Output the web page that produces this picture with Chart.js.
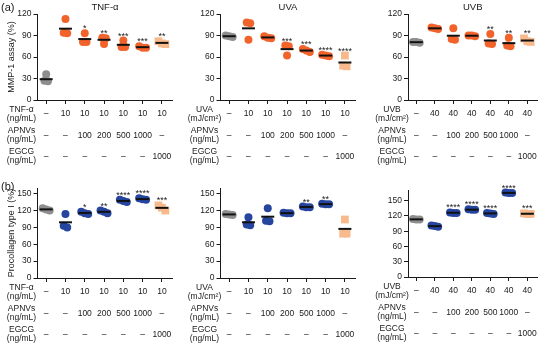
<!DOCTYPE html>
<html><head><meta charset="utf-8">
<script src="https://cdn.jsdelivr.net/npm/chart.js@4.4.1/dist/chart.umd.min.js"></script>
<style>
html,body{margin:0;padding:0;background:#fff;width:546px;height:347px;overflow:hidden;position:relative;font-family:'Liberation Sans',Arial,sans-serif}
canvas{position:absolute;z-index:1}
.lbl{position:absolute;font-size:11px;color:#1a1a1a;line-height:12px;z-index:5}
</style></head><body>
<div class="lbl" style="left:1px;top:1px">(a)</div>
<div class="lbl" style="left:1px;top:180px">(b)</div>
<canvas id="a1"></canvas><canvas id="a2"></canvas><canvas id="a3"></canvas>
<canvas id="b1"></canvas><canvas id="b2"></canvas><canvas id="b3"></canvas>
<script>
// ---------- data ----------
const yTickValues = [0, 30, 60, 90, 120, 150];
const panelTitles = ['TNF-α', 'UVA', 'UVB'];
const yTitleA = 'MMP-1 assay (%)';
const yTitleB = 'Procollagen type I (%)';

const tnfRow = ['–', '10', '10', '10', '10', '10', '10'];
const uvaRow = ['–', '10', '10', '10', '10', '10', '10'];
const uvbRow = ['–', '40', '40', '40', '40', '40', '40'];
const apnvsRow = ['–', '–', '100', '200', '500', '1000', '–'];
const egcgRow = ['–', '–', '–', '–', '–', '–', '1000'];

const tnfLabels = [['TNF-α', '(ng/mL)'], ['APNVs', '(ng/mL)'], ['EGCG', '(ng/mL)']];
const uvaLabels = [['UVA', '(mJ/cm²)'], ['APNVs', '(ng/mL)'], ['EGCG', '(ng/mL)']];
const uvbLabels = [['UVB', '(mJ/cm²)'], ['APNVs', '(ng/mL)'], ['EGCG', '(ng/mL)']];

// MMP-1 assay (%)
const mmpTnf = [[36, 27, 26], [113, 94, 93], [93, 81, 81], [87, 86, 78], [83, 74, 74], [75, 73, 73], [82, 79, 78]];
const mmpTnfMean = [29, 99.5, 85, 84, 77, 73.7, 79.7];
const mmpTnfSig = ['', '', '*', '**', '***', '***', '**'];

const mmpUva = [[90, 89, 88], [108, 107, 84], [89, 87, 86], [76, 75, 62], [71, 69, 67], [63, 62, 61], [62, 48, 47]];
const mmpUvaMean = [89, 100, 87.3, 71, 69, 62, 52.3];
const mmpUvaSig = ['', '', '', '***', '***', '****', '****'];

const mmpUvb = [[81, 80, 81], [101, 100, 99], [100, 85, 84], [90, 89, 90], [92, 79, 78], [87, 76, 75], [86, 82, 81]];
const mmpUvbMean = [80.7, 100, 89.7, 89.7, 83, 79.3, 83];
const mmpUvbSig = ['', '', '', '', '**', '**', '**'];

// Procollagen type I (%)
const pcTnf = [[124, 122, 120], [114, 93, 90], [118, 115, 114], [120, 118, 115], [139, 137, 135], [142, 140, 139], [129, 125, 120]];
const pcTnfMean = [122, 99, 115.7, 117.7, 137, 140.3, 124.7];
const pcTnfSig = ['', '', '*', '**', '****', '****', '***'];

const pcUva = [[114, 113, 112], [108, 95, 94], [124, 102, 101], [116, 115, 115], [127, 126, 126], [132, 131, 131], [104, 79, 79]];
const pcUvaMean = [113, 99, 109, 115.3, 126.3, 131.3, 87.3];
const pcUvaSig = ['', '', '', '', '**', '**', ''];

const pcUvb = [[114, 113, 113], [101, 100, 99], [127, 126, 126], [133, 132, 132], [126, 125, 124], [166, 165, 165], [125, 124, 124]];
const pcUvbMean = [113.3, 100, 126.3, 132.3, 125, 165.3, 124.3];
const pcUvbSig = ['', '', '****', '****', '****', '****', '***'];

// ---------- drawing ----------
const FONT = "'Liberation Sans', Arial, Helvetica, sans-serif";
const TXT = '#1a1a1a';
const GRAY = '#8e8e8e';
const ORANGE = '#f2632c';
const BLUE = '#25459f';
const LIGHT = '#f8b98c';
const ROW_VAL = [14, 35.5, 56.5];
const ROW_LAB = [[10, 18.5], [31, 40], [52, 61]];

function spread(vals, pxPerUnit) {
  const idx = vals.map((v, i) => i).sort((a, b) => vals[b] - vals[a]);
  const offs = new Array(vals.length).fill(0);
  const clusters = [];
  let cur = [idx[0]];
  for (let k = 1; k < idx.length; k++) {
    if ((vals[cur[cur.length - 1]] - vals[idx[k]]) * pxPerUnit < 5) cur.push(idx[k]);
    else { clusters.push(cur); cur = [idx[k]]; }
  }
  clusters.push(cur);
  clusters.forEach(c => c.forEach((i, j) => { offs[i] = (j - (c.length - 1) / 2) * 0.18; }));
  return offs;
}

const decor = {
  id: 'decor',
  afterDraw(chart, args, o) {
    const ctx = chart.ctx, xs = chart.scales.x, ys = chart.scales.y, ca = chart.chartArea;
    ctx.save();
    ctx.fillStyle = TXT;
    ctx.textAlign = 'center';
    if (o.title) {
      ctx.font = `9.5px ${FONT}`;
      ctx.textBaseline = 'middle';
      ctx.fillText(o.title, (ca.left + ca.right) / 2, o.titleY);
    }
    ctx.font = `9px ${FONT}`;
    ctx.textBaseline = 'alphabetic';
    o.sig.forEach((s, i) => {
      if (!s) return;
      const top = Math.max(...o.groups[i], o.means[i]);
      ctx.fillText(s, xs.getPixelForValue(i + 1), ys.getPixelForValue(top) - 2);
    });
    ctx.textBaseline = 'middle';
    ctx.font = `8.5px ${FONT}`;
    o.rows.forEach((row, r) => {
      row.forEach((t, i) => ctx.fillText(t, xs.getPixelForValue(i + 1), ca.bottom + ROW_VAL[r]));
    });
    o.rowLabels.forEach((lab, r) => {
      lab.forEach((t, k) => ctx.fillText(t, ca.left - 16, ca.bottom + ROW_LAB[r][k]));
    });
    ctx.restore();
  }
};

function panel(p) {
  const cv = document.getElementById(p.id);
  cv.width = p.box.w; cv.height = p.box.h;
  cv.style.left = p.box.x + 'px'; cv.style.top = p.box.y + 'px';
  const l = p.area.l - p.box.x, r = p.area.r - p.box.x;
  const t = p.area.t - p.box.y, b = p.area.b - p.box.y;
  const pxPerUnit = (b - t) / p.yMax;
  const datasets = [{
    data: p.means.map((m, i) => ({ x: i + 1, y: m })),
    pointStyle: 'line', pointRadius: 6.5, pointBorderWidth: 2,
    pointBorderColor: '#111', pointBackgroundColor: '#111',
    borderColor: '#111', showLine: false, clip: false
  }];
  p.groups.forEach((vals, i) => {
    const offs = spread(vals, pxPerUnit);
    const color = i === 0 ? GRAY : (i === 6 ? LIGHT : p.accent);
    datasets.push({
      data: vals.map((v, j) => ({ x: i + 1 + offs[j], y: v })),
      pointStyle: i === 6 ? 'rect' : 'circle',
      pointRadius: i === 6 ? 5.5 : 4,
      pointBackgroundColor: color, pointBorderColor: color, pointBorderWidth: 0,
      backgroundColor: color, borderColor: color, showLine: false, clip: false
    });
  });
  new Chart(cv, {
    type: 'scatter',
    data: { datasets },
    plugins: [decor],
    options: {
      responsive: false, animation: false, devicePixelRatio: 1, events: [],
      layout: { padding: { left: 0, right: p.box.w - r, top: t, bottom: 0 } },
      plugins: {
        legend: { display: false }, tooltip: { enabled: false },
        decor: { title: p.title, titleY: 7 - p.box.y, sig: p.sig, groups: p.groups, means: p.means, rows: p.rows, rowLabels: p.rowLabels }
      },
      scales: {
        x: {
          type: 'linear', min: 0.55, max: 7.55,
          afterBuildTicks: s => { s.ticks = [1, 2, 3, 4, 5, 6, 7].map(v => ({ value: v })); },
          afterFit: s => { s.height = p.box.h - b; },
          ticks: { display: false },
          grid: { drawOnChartArea: false, drawTicks: true, tickLength: 4, tickColor: TXT, tickWidth: 1 },
          border: { color: TXT, width: 1 }
        },
        y: {
          min: 0, max: p.yMax,
          afterBuildTicks: s => { s.ticks = yTickValues.filter(v => v <= p.yMax).map(v => ({ value: v })); },
          afterFit: s => { s.width = l; },
          ticks: { font: { size: 8.5, family: FONT }, color: TXT, padding: 2 },
          grid: { drawOnChartArea: false, drawTicks: true, tickLength: 4, tickColor: TXT, tickWidth: 1 },
          border: { color: TXT, width: 1 },
          title: { display: !!p.yTitle, text: p.yTitle || '', font: { size: 9, family: FONT }, color: TXT, padding: { top: 6, bottom: 0 } }
        }
      }
    }
  });
}

panel({ id: 'a1', box: { x: 0, y: 0, w: 182, h: 172 }, area: { l: 37.5, r: 172.5, t: 14, b: 100 }, yMax: 120,
  groups: mmpTnf, means: mmpTnfMean, sig: mmpTnfSig, rows: [tnfRow, apnvsRow, egcgRow], rowLabels: tnfLabels,
  title: panelTitles[0], yTitle: yTitleA, accent: ORANGE });
panel({ id: 'a2', box: { x: 182, y: 0, w: 182, h: 172 }, area: { l: 220.5, r: 355.5, t: 14, b: 100 }, yMax: 120,
  groups: mmpUva, means: mmpUvaMean, sig: mmpUvaSig, rows: [uvaRow, apnvsRow, egcgRow], rowLabels: uvaLabels,
  title: panelTitles[1], yTitle: '', accent: ORANGE });
panel({ id: 'a3', box: { x: 364, y: 0, w: 182, h: 172 }, area: { l: 408, r: 543, t: 14, b: 100 }, yMax: 120,
  groups: mmpUvb, means: mmpUvbMean, sig: mmpUvbSig, rows: [uvbRow, apnvsRow, egcgRow], rowLabels: uvbLabels,
  title: panelTitles[2], yTitle: '', accent: ORANGE });
panel({ id: 'b1', box: { x: 0, y: 172, w: 182, h: 175 }, area: { l: 37.5, r: 172.5, t: 188, b: 278 }, yMax: 160,
  groups: pcTnf, means: pcTnfMean, sig: pcTnfSig, rows: [tnfRow, apnvsRow, egcgRow], rowLabels: tnfLabels,
  title: '', yTitle: yTitleB, accent: BLUE });
panel({ id: 'b2', box: { x: 182, y: 172, w: 182, h: 175 }, area: { l: 220.5, r: 355.5, t: 188, b: 278 }, yMax: 160,
  groups: pcUva, means: pcUvaMean, sig: pcUvaSig, rows: [uvaRow, apnvsRow, egcgRow], rowLabels: uvaLabels,
  title: '', yTitle: '', accent: BLUE });
panel({ id: 'b3', box: { x: 364, y: 172, w: 182, h: 175 }, area: { l: 408, r: 543, t: 190.5, b: 277 }, yMax: 170,
  groups: pcUvb, means: pcUvbMean, sig: pcUvbSig, rows: [uvbRow, apnvsRow, egcgRow], rowLabels: uvbLabels,
  title: '', yTitle: '', accent: BLUE });
</script>
</body></html>
